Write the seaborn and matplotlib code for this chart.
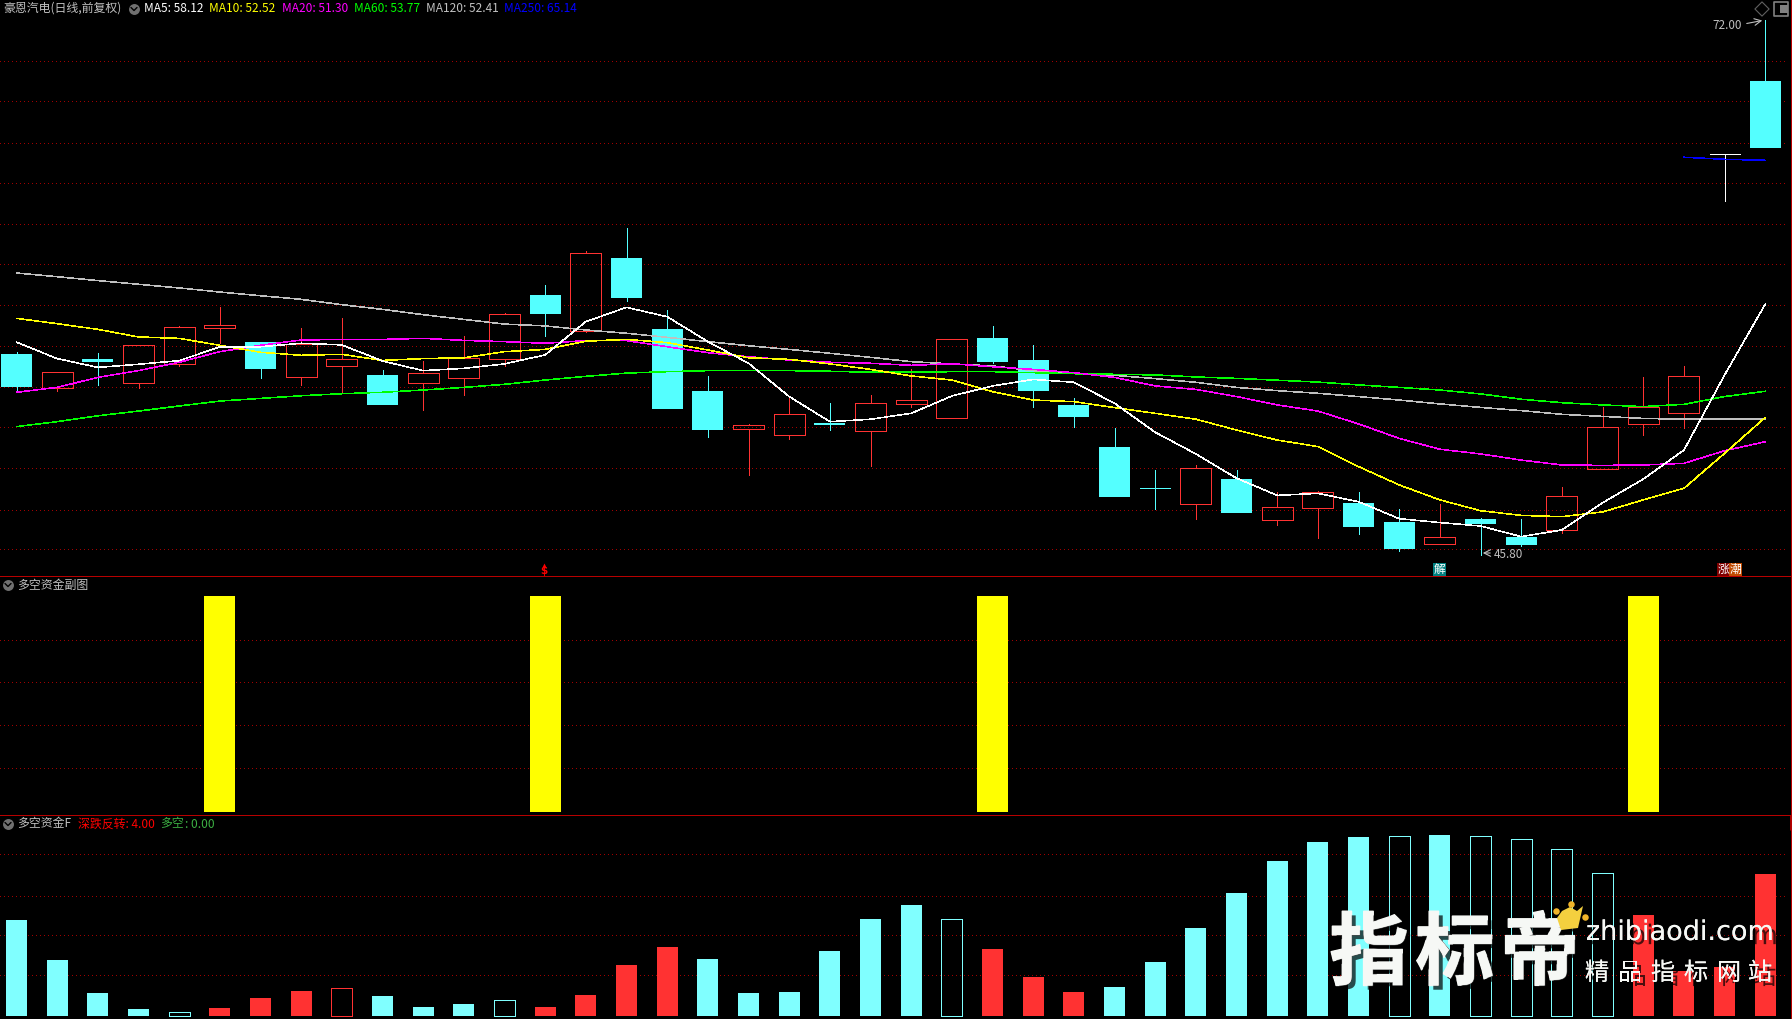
import matplotlib
matplotlib.use("Agg")
import matplotlib.pyplot as plt
import matplotlib.patheffects as pe
import seaborn as sns

# candles
opens = [55.65, 54.00, 55.40, 54.24, 55.17, 56.93, 56.23, 54.54, 55.07, 54.62, 54.24,
         54.49, 55.42, 58.53, 56.79, 60.35, 56.87, 53.83, 51.99, 51.70, 52.27, 51.89,
         53.21, 52.53, 56.43, 55.35, 53.15, 51.09, 49.09, 48.32, 49.52, 47.53, 48.12,
         48.35, 47.42, 46.36, 47.57, 46.68, 47.04, 50.03, 52.23, 52.77, 65.42, 69.01]
closes = [54.03, 54.75, 55.25, 56.07, 56.95, 57.05, 54.91, 56.13, 55.38, 53.15, 54.70,
          55.43, 57.59, 57.60, 60.58, 58.40, 52.95, 51.92, 52.15, 52.69, 52.17, 53.23,
          53.38, 56.36, 55.25, 53.83, 52.56, 48.64, 49.05, 50.05, 47.86, 48.14, 48.87,
          47.17, 46.10, 46.67, 47.32, 46.29, 48.68, 52.05, 53.03, 54.55, 65.42, 65.73]
highs = [55.76, 54.75, 55.69, 56.07, 57.02, 57.95, 56.23, 56.92, 57.41, 54.86, 55.30,
         56.53, 57.64, 59.02, 60.69, 61.82, 57.80, 54.57, 52.22, 53.56, 53.25, 53.64,
         54.91, 56.36, 57.02, 56.07, 53.49, 52.02, 49.96, 50.21, 49.96, 48.89, 48.94,
         48.89, 48.05, 48.30, 47.61, 47.57, 49.13, 53.05, 54.52, 55.06, 65.42, 72.00]
lows = [53.88, 53.83, 54.13, 54.00, 55.07, 56.17, 54.47, 54.13, 53.78, 53.15, 52.90,
        53.64, 55.07, 56.54, 56.74, 58.26, 52.95, 51.58, 49.72, 51.48, 51.92, 50.16,
        53.05, 52.53, 55.20, 53.05, 52.05, 48.64, 48.05, 47.57, 47.86, 47.27, 46.63,
        46.83, 46.01, 46.36, 45.80, 46.24, 46.90, 50.03, 51.68, 52.04, 63.15, 65.73]

ma5 = [56.22, 55.42, 54.99, 55.14, 55.32, 55.99, 56.00, 56.17, 56.09, 55.30, 54.83,
       54.94, 55.16, 55.60, 57.23, 57.93, 57.47, 56.25, 55.19, 53.56, 52.33, 52.45,
       52.74, 53.59, 54.08, 54.40, 54.26, 53.23, 51.81, 50.75, 49.56, 48.72, 48.82,
       48.41, 47.58, 47.39, 47.22, 46.70, 47.03, 48.36, 49.52, 50.94, 54.62, 58.09]
ma10 = [57.39, 57.13, 56.85, 56.48, 56.41, 56.07, 55.73, 55.58, 55.63, 55.33, 55.42,
        55.46, 55.76, 55.87, 56.27, 56.36, 56.20, 55.84, 55.46, 55.38, 55.16, 54.89,
        54.57, 54.37, 53.80, 53.39, 53.31, 53.02, 52.74, 52.45, 51.92, 51.43, 51.11,
        50.13, 49.23, 48.50, 47.97, 47.74, 47.68, 47.91, 48.50, 49.07, 50.78, 52.54]
ma20 = [53.77, 54.01, 54.50, 54.83, 55.24, 55.76, 56.07, 56.33, 56.36, 56.36, 56.41,
        56.31, 56.25, 56.17, 56.30, 56.30, 56.00, 55.71, 55.51, 55.35, 55.24, 55.19,
        55.09, 55.17, 55.02, 54.89, 54.73, 54.50, 54.08, 53.91, 53.56, 53.15, 52.85,
        52.22, 51.51, 50.98, 50.75, 50.45, 50.21, 50.19, 50.21, 50.29, 50.91, 51.35]
ma60 = [52.09, 52.33, 52.62, 52.85, 53.10, 53.34, 53.47, 53.60, 53.70, 53.77, 53.88,
        54.01, 54.16, 54.37, 54.55, 54.71, 54.78, 54.83, 54.83, 54.83, 54.80, 54.75,
        54.75, 54.78, 54.78, 54.73, 54.68, 54.65, 54.62, 54.52, 54.45, 54.36, 54.27,
        54.13, 54.01, 53.88, 53.69, 53.43, 53.26, 53.15, 53.07, 53.18, 53.56, 53.82]
ma120 = [59.61, 59.43, 59.24, 59.06, 58.88, 58.68, 58.50, 58.32, 58.06, 57.83, 57.57,
         57.34, 57.11, 57.02, 56.82, 56.66, 56.46, 56.25, 56.05, 55.87, 55.68, 55.48,
         55.27, 55.16, 55.06, 54.83, 54.70, 54.60, 54.44, 54.26, 54.01, 53.85, 53.72,
         53.56, 53.39, 53.20, 53.03, 52.87, 52.69, 52.59, 52.49, 52.45, 52.45, 52.45]
ma250 = [65.28, 65.18, 65.13]
ma250_idx = [41, 42, 43]

# middle panel signal
signal_idx = [5, 13, 24, 40]
signal_value = 4.0

# bottom panel
fund = [9.6, 5.6, 2.3, 0.7, 0.37, 0.8, 1.8, 2.5, 2.77, 2.0, 0.9, 1.2, 1.57, 0.9, 2.1,
        5.1, 6.9, 5.7, 2.3, 2.4, 6.5, 9.7, 11.1, 9.7, 6.7, 3.9, 2.4, 2.9, 5.4, 8.8,
        12.3, 15.5, 17.4, 17.9, 17.97, 18.1, 17.97, 17.67, 16.67, 14.27, 10.1, 4.5, 4.9, 14.2]
fund_red = [5, 6, 7, 8, 13, 14, 15, 16, 24, 25, 26, 40, 41, 42, 43]
fund_hollow = [4, 8, 12, 23, 34, 36, 37, 38, 39]

grid_main = [69.98, 68.02, 66.00, 64.00, 61.99, 60.03, 58.03, 56.02, 54.05, 52.06, 50.05, 48.02, 46.08]
grid_mid = [3.198, 2.402, 1.606, 0.81]
grid_fund = [16.17, 12.03, 8.07, 4.07]

W, H = 1792, 1019
BG = "#000000"
CYAN = "#54FFFF"
RED = "#FF3232"
LIGHT_CYAN = "#80FFFF"
GRID = "#A00000"
SEP = "#B80000"
PX = 0.72  # one pixel in points at dpi 100
THIN = 0.8 * PX
MA_LW = 0.55 * PX

sns.set_theme(style="dark", rc={"axes.facecolor": BG, "figure.facecolor": BG, "lines.scale_dashes": False})
plt.rcParams["font.family"] = ["Noto Sans CJK SC", "DejaVu Sans"]

fig = plt.figure(figsize=(W / 100, H / 100), dpi=100)


def panel(top, bottom):
    return fig.add_axes([0, 1 - bottom / H, 1790.7 / W, (bottom - top) / H])


ax_k = panel(0, 576.3)
ax_mid = panel(576.3, 815.3)
ax_fund = panel(815.3, 1019)
xlim = (-16.5 / 40.67, (1790.7 - 16.5) / 40.67)
idx = list(range(len(opens)))


def draw_grid(ax, levels):
    ax.hlines(levels, xlim[0], 43.52, color=GRID, lw=PX, linestyles=[(0, (PX, 3 * PX))], antialiased=False, zorder=1)


draw_grid(ax_k, grid_main)
draw_grid(ax_mid, grid_mid)
draw_grid(ax_fund, grid_fund)

# candles
for i in idx:
    o, c, h, l = opens[i], closes[i], highs[i], lows[i]
    top, bot = max(o, c), min(o, c)
    if c > o:
        ax_k.bar(i, top - bot, 0.762, bot, facecolor="none", edgecolor=RED, lw=THIN, antialiased=False, zorder=2)
        col = RED
    elif c < o:
        ax_k.bar(i, top - bot, 0.762, bot, color=CYAN, lw=0, zorder=2)
        col = CYAN
    else:
        col = "#FFFFFF"
        ax_k.hlines(o, i - 0.37, i + 0.37, color=col, lw=THIN, antialiased=False, zorder=2)
    ax_k.vlines(i, top, h, color=col, lw=THIN, antialiased=False, zorder=2)
    ax_k.vlines(i, l, bot, color=col, lw=THIN, antialiased=False, zorder=2)

ma_lines = [(ma120, "#C0C0C0"), (ma60, "#00FF00"), (ma20, "#FF00FF"), (ma10, "#FFFF00"), (ma5, "#FFFFFF")]
for values, col in ma_lines:
    sns.lineplot(x=idx, y=values, color=col, lw=MA_LW, ax=ax_k, errorbar=None, legend=False, antialiased=False, zorder=3)
sns.lineplot(x=ma250_idx, y=ma250, color="#0000FF", lw=MA_LW, ax=ax_k, errorbar=None, legend=False, antialiased=False, zorder=3)
ax_k.set_ylim(72.98 - 0.04897 * 576.3, 72.98)

# signal bars
mid_values = [signal_value if i in signal_idx else 0.0 for i in idx]
sns.barplot(x=idx, y=mid_values, native_scale=True, width=0.762, color="#FFFF00", saturation=1,
            errorbar=None, ax=ax_mid, zorder=2)
for p in ax_mid.patches:
    p.set_linewidth(0)
ax_mid.set_ylim(-3.3 / 54, 236 / 54)

# fund bars
sns.barplot(x=idx, y=fund, native_scale=True, width=0.516, color=LIGHT_CYAN, saturation=1,
            errorbar=None, ax=ax_fund, zorder=2)
for i, p in enumerate(ax_fund.patches):
    col = RED if i in fund_red else LIGHT_CYAN
    if i in fund_hollow:
        p.set_facecolor("none")
        p.set_edgecolor(col)
        p.set_linewidth(THIN)
        p.set_antialiased(False)
    else:
        p.set_facecolor(col)
        p.set_linewidth(0)
ax_fund.set_ylim(-0.3, 20.07)

for ax in (ax_k, ax_mid, ax_fund):
    ax.set_xlim(*xlim)
    ax.set_xticks([])
    ax.set_yticks([])
    ax.set_xlabel("")
    ax.set_ylabel("")
    ax.grid(False)
    for side in ax.spines.values():
        side.set_visible(False)

# overlay in screen pixels for labels and furniture
ov = fig.add_axes([0, 0, 1, 1], zorder=10)
ov.set_xlim(0, W)
ov.set_ylim(H, 0)
ov.axis("off")
ov.patch.set_alpha(0)

ov.hlines([576.3, 815.3], 0, 1791, color=SEP, lw=THIN, antialiased=False)
ov.vlines(1790.8, 0, H, color=SEP, lw=THIN, antialiased=False)
ov.vlines(1791, 815, 830, color=SEP, lw=2)


def label(x, y, s, col="#C0C0C0", size=8.6, **kw):
    ov.text(x, y, s, color=col, fontsize=size, va="center", ha=kw.pop("ha", "left"), **kw)


def chevron(x, y):
    ov.scatter([x], [y], s=62, color="#707070", lw=0)
    ov.plot([x - 3, x, x + 3], [y - 1.5, y + 1.5, y - 1.5], color="#000000", lw=1)


label(3, 8.5, "豪恩汽电(日线,前复权)", size=8.6)
chevron(134, 9)
label(144.5, 8.5, "MA5: 58.12", "#FFFFFF")
label(209, 8.5, "MA10: 52.52", "#FFFF00")
label(281.5, 8.5, "MA20: 51.30", "#FF00FF")
label(353.5, 8.5, "MA60: 53.77", "#00FF00")
label(425.5, 8.5, "MA120: 52.41", "#C0C0C0")
label(504.5, 8.5, "MA250: 65.14", "#0000FF")

chevron(8, 585)
label(17, 585, "多空资金副图", size=8.6)
chevron(8, 824)
label(17, 824, "多空资金F", size=8.6)
label(78, 824, "深跌反转: 4.00", "#FF0000", size=8.6)
label(160.5, 824, "多空", "#3CB043", size=8.6)
label(185, 824, ": 0.00", "#3CB043", size=8.6)

# price extremes
label(1712, 25.5, "72.00", size=8.4)
ov.annotate("", xy=(1765, 20), xytext=(1744, 24), arrowprops=dict(arrowstyle="->", color="#C0C0C0", lw=0.8))
label(1494, 555, "45.80", size=8.4)
ov.annotate("", xy=(1480, 553), xytext=(1493, 553), arrowprops=dict(arrowstyle="->", color="#C0C0C0", lw=0.8))

# top right icons
ov.scatter([1762], [9], marker="D", s=52, facecolor="none", edgecolor="#606060", lw=0.8)
ov.scatter([1781], [9], marker="s", s=90, facecolor="none", edgecolor="#808080", lw=1.2)
ov.scatter([1784], [9], marker="s", s=28, color="#808080", lw=0)

# signals above the separator
ov.text(543.5, 571, "$", color="#FF0000", fontsize=7.5, ha="center", va="center", fontweight="bold", family="DejaVu Sans")
ov.scatter([543.5], [565], marker="^", s=8, color="#FF0000", lw=0)


def tag(x0, x1, s, face):
    ov.fill_between([x0, x1], 563, 576, color=face, lw=0)
    ov.text((x0 + x1) / 2, 569.5, s, color="#FFFFFF", fontsize=8.5, ha="center", va="center")


tag(1433, 1446, "解", "#008080")
tag(1717, 1729, "涨", "#800000")
tag(1729, 1742, "潮", "#C04A00")

# watermark
white = "#F6F8F5"
shadow = [pe.withSimplePatchShadow(offset=(3, -3), shadow_rgbFace="#000000", alpha=0.7), pe.Normal()]
heavy = [pe.Stroke(linewidth=1, foreground=white), pe.withSimplePatchShadow(offset=(3, -3), shadow_rgbFace="#000000", alpha=0.7), pe.Normal()]
for x, s in zip((1369, 1455, 1540), "指标帝"):
    ov.text(x, 955, s, color=white, fontsize=57, fontweight="bold", ha="center", va="center", path_effects=heavy)
ov.text(1680, 933, "zhibiaodi.com", color=white, fontsize=19.5, ha="center", va="center",
        family="DejaVu Sans", path_effects=shadow)
for x, s in zip((1597, 1630, 1663, 1696, 1729, 1760), "精品指标网站"):
    ov.text(x, 973, s, color=white, fontsize=17.5, ha="center", va="center", path_effects=shadow)
ov.fill([1557, 1562, 1570, 1577, 1583, 1578, 1561], [918, 911, 907, 911, 906, 928, 930], color="#F4D03F", lw=0, zorder=5)
ov.scatter([1556, 1571, 1585], [911, 904, 917], s=22, color="#F0B429", lw=0, zorder=5)

fig.savefig("out.png", dpi=100, facecolor=BG)
plt.close(fig)
